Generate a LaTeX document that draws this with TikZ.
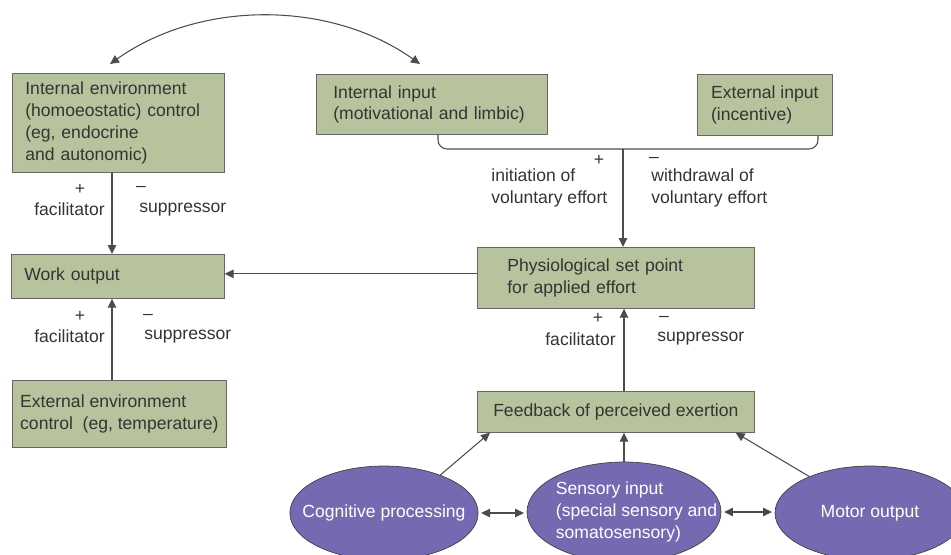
\documentclass[tikz,border=0pt]{standalone}
\usepackage{fontspec}
\setmainfont{Liberation Sans}
\usetikzlibrary{arrows.meta,shapes.geometric,calc}
\definecolor{boxgreen}{RGB}{182,195,157}
\definecolor{ovalblue}{RGB}{117,106,178}
\definecolor{inkgray}{RGB}{52,52,52}

\begin{document}
\begin{tikzpicture}[x=0.02cm,y=-0.02cm,
  every node/.style={font=\fontsize{10}{12.4}\selectfont, text=inkgray},
  box/.style={draw=black!60, fill=boxgreen, anchor=north west, align=left, inner ysep=0pt},
  oval/.style={ellipse, draw=black!75, fill=ovalblue, text=white, align=left, inner xsep=-0.3cm, inner ysep=0pt},
  lab/.style={align=left, inner sep=0pt},
  line/.style={draw=black!70, line width=0.6pt},
  arr/.style={line, -{Triangle[length=1.8mm,width=1.7mm]}},
  dbl/.style={line, {Triangle[length=1.8mm,width=1.7mm]}-{Triangle[length=1.8mm,width=1.7mm]}}]
\clip (0,0) rectangle (951,555);

% boxes
\node[box, text width=3.72cm, inner xsep=0.26cm, minimum height=1.98cm] (ienv) at (12,73) {Internal environment\\(homoeostatic) control\\(eg, endocrine\\and autonomic)};
\node[box, text width=3.94cm, inner xsep=0.34cm, minimum height=1.2cm] (iin) at (316,74) {Internal input\\(motivational and limbic)};
\node[box, minimum width=2.7cm, minimum height=1.22cm, inner xsep=0.2cm] (ein) at (697,74) {External input\\(incentive)};
\node[box, text width=3.74cm, inner xsep=0.26cm, minimum height=0.88cm] (wo) at (11,254) {Work output};
\node[box, minimum width=4.28cm, minimum height=1.34cm, inner xsep=0.05cm] (eenv) at (12,380) {External environment\\control\ \ (eg, temperature)};
\node[box, text width=4.34cm, inner xsep=0.6cm, minimum height=1.22cm] (phys) at (477,247) {Physiological set point\\for applied effort};
\node[box, align=center, minimum width=5.54cm, minimum height=0.82cm] (fb) at (477,391) {Feedback of perceived exertion};

% ovals
\node[oval, minimum width=3.76cm, minimum height=1.88cm] (cog) at (384,513) {Cognitive processing};
\node[oval, inner xsep=-0.9cm, minimum width=3.88cm, minimum height=2cm] (sens) at (624,512) {\hspace*{0.5cm}Sensory input\\\hspace*{0.5cm}(special sensory and\\\hspace*{0.5cm}somatosensory)};
\node[oval, minimum width=3.8cm, minimum height=1.88cm] (mot) at (870,513) {Motor output};

% top arc
\coordinate (arcL) at (110,64);
\coordinate (arcR) at (420,64);
\draw[dbl] (arcL) .. controls (200,0) and (330,0) .. (arcR);

% joining line under the inputs
\coordinate (brL) at ($(iin.south west)+(122,0)$);
\coordinate (brR) at ($(ein.south west)+(121,0)$);
\coordinate (join) at (623,149);
\draw[line, rounded corners=0.18cm] (brL) |- (join) -| (brR);
\draw[arr] (join) -- (join |- phys.north);

% left column
\coordinate (lx) at (112,0);
\draw[arr] (ienv.south -| lx) -- (wo.north -| lx);
\draw[arr] (eenv.north -| lx) -- (wo.south -| lx);
\coordinate (wy) at ($(phys.west)+(0,-4)$);
\draw[arr] (wy) -- (wy -| wo.east);

% right column
\coordinate (rx) at (624,0);
\draw[arr] (fb.north -| rx) -- (phys.south -| rx);
\draw[arr] (cog.34) -- ($(fb.south west)+(13,0)$);
\draw[arr] (sens.north) -- (sens.north |- fb.south);
\draw[arr] (mot.149) -- ($(fb.south east)+(-19,0)$);
\draw[dbl, shorten <=1.5pt, shorten >=1.5pt] (cog.east) -- (cog.east -| sens.west);
\draw[dbl, shorten <=1.5pt, shorten >=1.5pt] (sens.east -| mot.west) -- (sens.east);

% labels
\node (plusA) at (80,189) {+};
\node[lab, anchor=east] (facA) at (105,209) {facilitator};
\node (minA) at (141,189) {--};
\node[lab, anchor=west] (supA) at (139,210) {suppressor};
\node (plusB) at (80,316) {+};
\node[lab, anchor=east] (facB) at (105,336) {facilitator};
\node (minB) at (148,317) {--};
\node[lab, anchor=west] (supB) at (144,337) {suppressor};
\node (plusC) at (598,318) {+};
\node[lab, anchor=east] (facC) at (616,339) {facilitator};
\node (minC) at (664,319) {--};
\node[lab, anchor=west] (supC) at (657,339) {suppressor};
\node (plusD) at (599,160) {+};
\node[lab, anchor=west] (initD) at (491,188) {initiation of\\voluntary effort};
\node (minD) at (654,160) {--};
\node[lab, anchor=west] (withD) at (651,188) {withdrawal of\\voluntary effort};
\end{tikzpicture}
\end{document}
